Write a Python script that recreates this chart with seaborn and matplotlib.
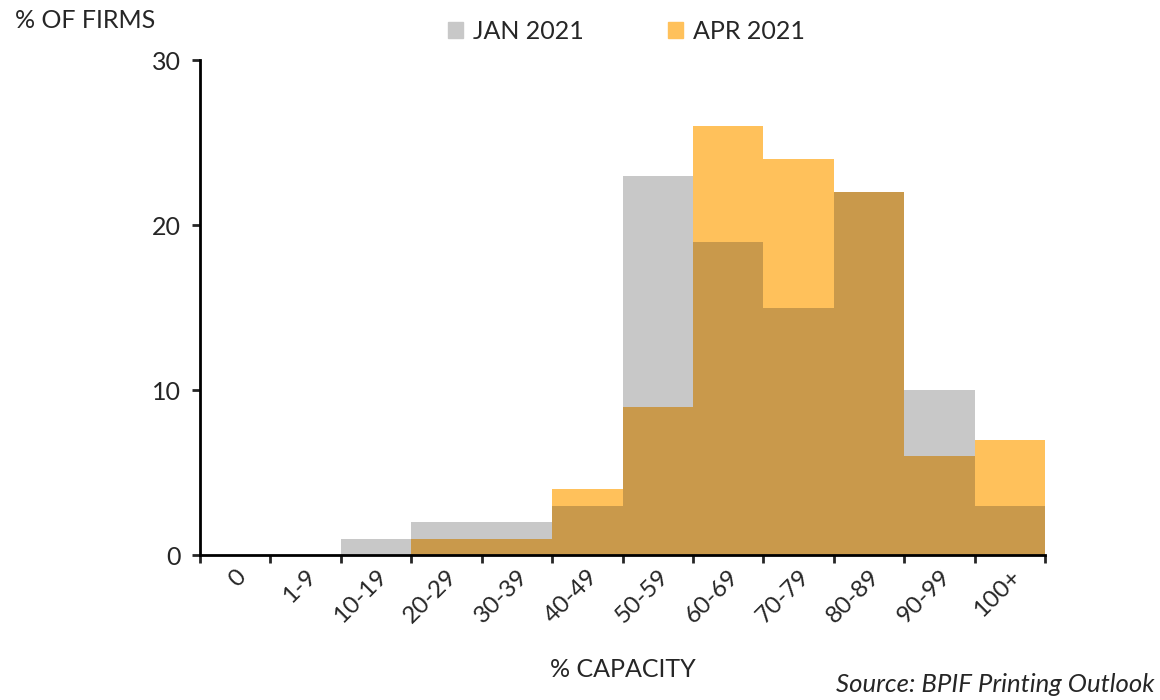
import matplotlib
matplotlib.use("Agg")
import matplotlib.pyplot as plt
import seaborn as sns
import pandas as pd
import numpy as np
from matplotlib.patches import Patch
from matplotlib.ticker import FixedLocator

# 데이터
bins = ['0', '1-9', '10-19', '20-29', '30-39', '40-49', '50-59',
        '60-69', '70-79', '80-89', '90-99', '100+']
jan_2021 = [0, 0, 1, 2, 2, 3, 23, 19, 15, 22, 10, 3]
apr_2021 = [0, 0, 0, 1, 1, 4, 9, 26, 24, 22, 6, 7]

gray = '#C8C8C8'
orange = '#FFC15B'
overlap = '#C9994B'

sns.set_style("white")
plt.rcParams['font.family'] = ['Lato', 'DejaVu Sans']

df = pd.DataFrame({'bin': bins, 'jan': jan_2021, 'apr': apr_2021})
df['both'] = np.minimum(df['jan'], df['apr'])

fig = plt.figure(figsize=(11.6, 7.0), dpi=100)
ax = fig.add_axes([0.1724, 0.207, 0.7285, 0.707])

# 겹치는 영역은 별도 색으로
sns.barplot(data=df, x='bin', y='jan', color=gray, width=1.0,
            linewidth=0, saturation=1, ax=ax)
sns.barplot(data=df, x='bin', y='apr', color=orange, width=1.0,
            linewidth=0, saturation=1, ax=ax)
sns.barplot(data=df, x='bin', y='both', color=overlap, width=1.0,
            linewidth=0, saturation=1, ax=ax)

ax.set_xlim(-0.5, len(bins) - 0.5)
ax.set_ylim(0, 30)
ax.set_yticks([0, 10, 20, 30])
ax.tick_params(axis='y', labelsize=18, length=6, width=2, direction='out',
               left=True, pad=8)
ax.tick_params(axis='x', which='major', length=0, labelsize=17.5, pad=8)
ax.xaxis.set_minor_locator(FixedLocator(np.arange(-0.5, len(bins), 1.0)))
ax.tick_params(axis='x', which='minor', length=6, width=2, direction='out',
               bottom=True)
plt.setp(ax.get_xticklabels(), rotation=45, ha='right', rotation_mode='anchor')

for s in ['top', 'right']:
    ax.spines[s].set_visible(False)
for s in ['left', 'bottom']:
    ax.spines[s].set_linewidth(2)
    ax.spines[s].set_color('black')

ax.set_xlabel('% CAPACITY', fontsize=18, labelpad=22)
ax.set_ylabel('')

fig.text(0.013, 0.97, '% OF FIRMS', fontsize=18, va='center', ha='left')

handles = [Patch(color=gray, label='JAN 2021'), Patch(color=orange, label='APR 2021')]
fig.legend(handles=handles, loc='center', bbox_to_anchor=(0.54, 0.955), ncol=2,
           frameon=False, fontsize=18, handlelength=0.6, handleheight=0.6,
           handletextpad=0.4, columnspacing=3.4)

fig.text(0.995, 0.022, 'Source: BPIF Printing Outlook', fontsize=18.5,
         style='italic', ha='right', va='center')

fig.savefig('out.png', dpi=100)
